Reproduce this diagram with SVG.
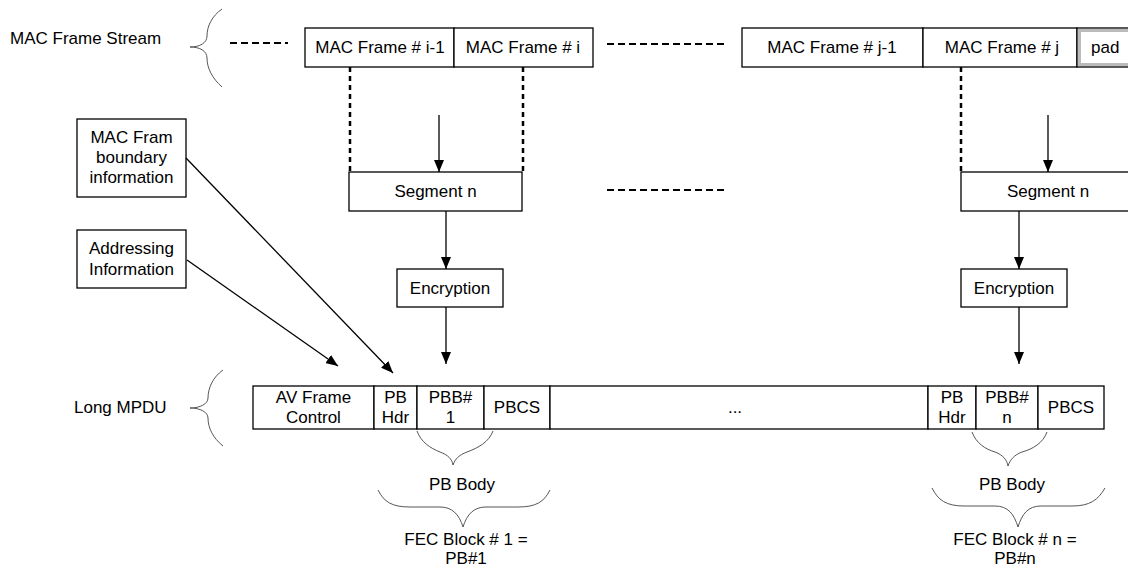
<svg xmlns="http://www.w3.org/2000/svg" width="1128" height="570" viewBox="0 0 1128 570">
<style>
text{font-family:"Liberation Sans",Arial,sans-serif;font-size:17px;fill:#000}
.c{text-anchor:middle}
.box{fill:#fff;stroke:#000;stroke-width:1.3}
.brace{fill:none;stroke:#555;stroke-width:1}
.dash{fill:none;stroke:#000;stroke-width:2;stroke-dasharray:7 4}
.dot{fill:none;stroke:#000;stroke-width:2.5;stroke-dasharray:5 4}
.arr{fill:none;stroke:#000;stroke-width:1.3;marker-end:url(#ah)}
</style>
<defs>
<marker id="ah" viewBox="0 0 12 10" refX="12" refY="5" markerWidth="12" markerHeight="10" markerUnits="userSpaceOnUse" orient="auto"><path d="M0,0 L12,5 L0,10 z" fill="#000"/></marker>
</defs>
<rect width="1128" height="570" fill="#fff"/>

<g id="labels">
<text x="10" y="44">MAC Frame Stream</text>
<text x="74" y="413">Long MPDU</text>
<path class="brace" d="M222,9 C212,16 207,26 207,36 C207,43 200,47 190,47 C200,47 207,51 207,58 C207,68 212,78 222,87"/>
<path class="brace" d="M223,370 C213,377 208,388 208,398 C208,404 200,408 190,408 C200,408 208,412 208,418 C208,428 213,438 223,446"/>
</g>

<g id="mac-frames">
<rect class="box" x="305" y="28" width="149" height="39"/>
<text class="c" x="380" y="53">MAC Frame # i-1</text>
<rect class="box" x="454" y="28" width="139" height="39"/>
<text class="c" x="523" y="53">MAC Frame # i</text>
<rect class="box" x="742" y="28" width="181" height="39"/>
<text class="c" x="832" y="53">MAC Frame # j-1</text>
<rect class="box" x="923" y="28" width="154" height="39"/>
<text class="c" x="1002" y="53">MAC Frame # j</text>
<rect class="box" x="1077" y="28" width="60" height="39"/>
<rect x="1079.5" y="30.5" width="60" height="34" fill="none" stroke="#bbb" stroke-width="3"/>
<text x="1091" y="53">pad</text>
</g>

<g id="segment-1">
<rect class="box" x="349" y="172" width="173" height="39"/>
<text class="c" x="435.5" y="197">Segment n</text>
</g>
<g id="segment-2">
<rect class="box" x="961" y="172" width="180" height="39"/>
<text class="c" x="1048" y="197">Segment n</text>
</g>
<g id="encryption-1">
<rect class="box" x="397" y="269" width="106" height="38"/>
<text class="c" x="450" y="294">Encryption</text>
</g>
<g id="encryption-2">
<rect class="box" x="961" y="269" width="106" height="38"/>
<text class="c" x="1014" y="294">Encryption</text>
</g>

<g id="boundary-info">
<rect class="box" x="77" y="119" width="109" height="78"/>
<text class="c" x="131.5" y="143">MAC Fram</text>
<text class="c" x="131.5" y="163">boundary</text>
<text class="c" x="131.5" y="183">information</text>
</g>
<g id="addressing-info">
<rect class="box" x="77" y="230" width="109" height="58"/>
<text class="c" x="131.5" y="254">Addressing</text>
<text class="c" x="131.5" y="275">Information</text>
</g>

<g id="mpdu">
<rect class="box" x="253" y="386" width="121" height="43"/>
<text class="c" x="313.5" y="403">AV Frame</text>
<text class="c" x="313.5" y="423">Control</text>
<rect class="box" x="374" y="386" width="43" height="43"/>
<text class="c" x="395.5" y="403">PB</text>
<text class="c" x="395.5" y="423">Hdr</text>
<rect class="box" x="417" y="386" width="67" height="43"/>
<text class="c" x="450.5" y="403">PBB#</text>
<text class="c" x="450.5" y="423">1</text>
<rect class="box" x="484" y="386" width="66" height="43"/>
<text class="c" x="517" y="413">PBCS</text>
<rect class="box" x="550" y="386" width="378" height="43"/>
<text class="c" x="735" y="413">...</text>
<rect class="box" x="928" y="386" width="48" height="43"/>
<text class="c" x="952" y="403">PB</text>
<text class="c" x="952" y="423">Hdr</text>
<rect class="box" x="976" y="386" width="62" height="43"/>
<text class="c" x="1007" y="403">PBB#</text>
<text class="c" x="1007" y="423">n</text>
<rect class="box" x="1038" y="386" width="66" height="43"/>
<text class="c" x="1071" y="413">PBCS</text>
</g>

<g id="pb-body-1">
<path class="brace" d="M417,431 C421,442 430,448 440,452 C448,455 452,459 453,465 C455,459 459,455 467,452 C478,448 489,442 493,431"/>
<text class="c" x="462" y="490">PB Body</text>
</g>
<g id="fec-1">
<path class="brace" d="M378,490 C384,502 392,507 410,507 L440,507 C452,507 459,514 463,527 C467,514 474,507 486,507 L518,507 C536,507 544,502 550,490"/>
<text class="c" x="466" y="545">FEC Block # 1 =</text>
<text class="c" x="466" y="564">PB#1</text>
</g>
<g id="pb-body-2">
<path class="brace" d="M972,432 C976,443 985,449 995,452 C1003,455 1007,460 1008,466 C1010,460 1014,455 1022,452 C1033,449 1043,443 1047,432"/>
<text class="c" x="1012" y="490">PB Body</text>
</g>
<g id="fec-2">
<path class="brace" d="M932,488 C938,500 946,506 964,506 L995,506 C1008,506 1014,514 1018,527 C1022,514 1028,506 1041,506 L1072,506 C1090,506 1098,500 1105,488"/>
<text class="c" x="1015" y="545">FEC Block # n =</text>
<text class="c" x="1015" y="564">PB#n</text>
</g>

<g id="connectors">
<line class="dash" x1="230" y1="43" x2="288" y2="43"/>
<line class="dash" x1="607" y1="44" x2="724" y2="44"/>
<line class="dash" x1="607" y1="190" x2="727" y2="190"/>
<line class="dot" x1="350" y1="67" x2="350" y2="172"/>
<line class="dot" x1="523" y1="67" x2="523" y2="172"/>
<line class="dot" x1="961" y1="67" x2="961" y2="172"/>
<line class="arr" x1="439" y1="115" x2="439" y2="172"/>
<line class="arr" x1="1048" y1="115" x2="1048" y2="172"/>
<line class="arr" x1="446" y1="211" x2="446" y2="269"/>
<line class="arr" x1="1019" y1="211" x2="1019" y2="269"/>
<line class="arr" x1="446" y1="307" x2="446" y2="364"/>
<line class="arr" x1="1019" y1="307" x2="1019" y2="364"/>
<line class="arr" x1="186" y1="158" x2="393" y2="373"/>
<line class="arr" x1="187" y1="260" x2="338" y2="366"/>
</g>
</svg>
